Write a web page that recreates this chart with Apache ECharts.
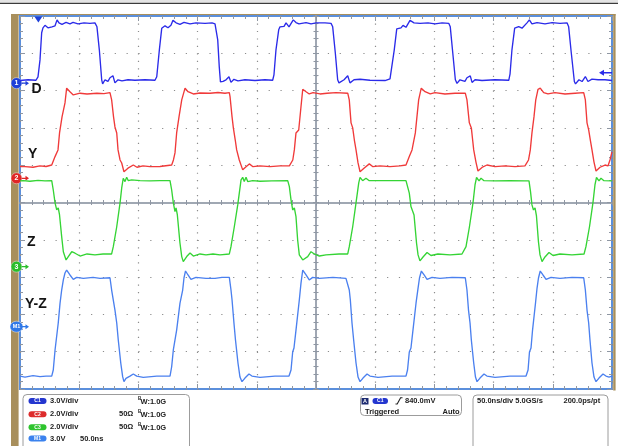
<!DOCTYPE html>
<html><head><meta charset="utf-8">
<script src="https://cdn.jsdelivr.net/npm/echarts@6/dist/echarts.min.js"></script>
<style>html,body{margin:0;padding:0;background:#fff}#c{width:618px;height:446px}</style>
</head><body><div id="c"></div>
<script>
// ---- Scope settings ----
const timeRangeNs = [0, 500];
const timePerDivNs = 50;
const channelNames = ['D', 'Y', 'Z', 'Y-Z'];
const channelMarkers = ['1', '2', '3', 'M1'];
const channelScalesV = [3.0, 2.0, 2.0, 3.0];        // V/div
const channelPositionsDiv = [3.2, 0.65, -1.72, -3.33]; // ground marker, div from centre
const triggerTimeNs = 15.5;
const triggerLevelV = 0.84;

// ---- Traces: [time ns, volts] ----
const traceD = [[0,0.21],[6.8,0.27],[13.5,0.23],[15.2,0.51],[16.9,1.87],[18.3,4.05],[19.4,4.45],[21.1,4.65],[23.6,4.45],[27.0,4.53],[29.6,4.61],[31.3,5.09],[32.9,4.85],[35.5,4.73],[38.9,4.89],[42.2,4.77],[44.8,4.89],[49.0,4.77],[54.1,4.85],[59.1,4.81],[63.3,4.85],[65.0,4.53],[67.0,2.68],[69.0,0.27],[69.8,-0.06],[71.8,0.27],[74.3,0.14],[76.0,0.43],[78.5,0.59],[80.2,0.02],[82.8,0.27],[86.1,0.18],[91.2,0.27],[97.1,0.23],[105.6,0.27],[114.0,0.23],
[115.5,0.51],[117.7,2.68],[119.7,4.41],[122.5,4.61],[125.0,4.45],[127.5,4.65],[129.2,5.05],[131.8,4.85],[135.1,4.73],[138.5,4.89],[143.6,4.77],[148.6,4.85],[156.3,4.81],[162.2,4.85],[164.7,4.77],[167.0,3.48],[168.3,1.31],[169.3,0.10],[171.5,0.14],[174.0,0.27],[176.5,0.51],[178.2,0.06],[180.7,0.31],[184.1,0.18],[190.0,0.27],[198.5,0.21],[206.9,0.27],[213.4,0.23],
[214.5,0.67],[216.2,2.68],[218.5,4.29],[219.6,4.53],[223.0,4.57],[224.7,4.85],[227.2,4.53],[230.8,5.09],[233.1,4.87],[235.6,4.77],[241.6,4.87],[245.8,4.77],[250.0,4.85],[257.6,4.85],[262.7,4.81],[264.1,4.53],[266.3,2.44],[268.3,0.27],[269.4,0.02],[273.7,0.27],[276.8,0.59],[278.7,0.02],[282.1,0.27],[287.2,0.31],[295.6,0.23],[308.3,0.21],[312.5,0.35],
[313.3,0.51],[316.1,2.68],[318.2,4.37],[321.8,4.45],[323.5,4.65],[326.0,4.49],[329.4,5.05],[332.8,4.85],[337.9,4.81],[344.6,4.85],[350.5,4.77],[356.5,4.85],[362.1,4.81],[363.4,4.53],[365.5,2.44],[367.7,0.27],[369.1,-0.02],[371.6,0.27],[375.8,0.14],[377.5,0.43],[380.3,0.59],[381.8,0.06],[384.3,0.27],[390.2,0.21],[401.2,0.27],[412.8,0.23],
[413.9,0.75],[415.5,2.68],[417.8,4.42],[421.2,4.55],[424.0,4.42],[428.2,4.85],[430.2,5.09],[432.4,4.77],[436.7,4.87],[443.4,4.77],[449.4,4.87],[456.1,4.81],[462.0,4.85],[463.4,4.53],[465.6,2.44],[468.2,0.13],[469.2,-0.06],[472.1,0.27],[474.7,0.13],[477.5,0.53],[479.7,0.13],[483.1,0.32],[488.2,0.27],[494.1,0.27],[500.0,0.21]];

const traceY = [[0,0.63],[4.2,0.62],[11.0,0.59],[16.9,0.66],[22.0,0.63],[26.8,0.71],[29.6,1.16],[32.1,1.52],[33.4,2.43],[35.5,3.29],[38.0,4.04],[39.4,4.83],[40.5,4.79],[42.2,4.64],[45.0,4.47],[50.7,4.56],[56.6,4.52],[65.0,4.56],[70.9,4.54],[76.0,4.59],[77.4,4.20],[79.0,3.29],[80.2,2.75],[81.7,2.43],[82.8,1.52],[84.5,0.98],[85.9,0.82],[87.8,0.35],[91.2,0.54],[95.7,0.71],[98.8,0.59],[103.9,0.66],[109.8,0.62],[118.2,0.63],[128.1,0.71],[129.6,0.98],[130.9,1.36],[132.3,2.43],[134.3,3.29],[136.6,4.20],[139.4,4.83],[141.9,4.64],[146.4,4.52],[152.0,4.57],[160.5,4.56],[167.2,4.60],[173.1,4.56],[176.8,4.59],[177.4,4.38],[179.1,3.29],[180.2,2.70],[181.8,2.05],[183.0,1.52],[185.2,0.98],[188.1,0.45],[190.9,0.62],[193.7,0.77],[196.8,0.62],[202.7,0.66],[211.2,0.62],[219.6,0.66],[227.5,0.66],[230.4,0.98],[231.7,1.52],[233.1,2.43],[235.4,2.59],[237.3,3.82],[238.8,4.77],[240.1,4.83],[241.6,4.64],[244.3,4.52],[247.5,4.59],[253.4,4.52],[259.3,4.56],[266.9,4.59],[276.8,4.56],[278.1,4.20],[279.6,2.97],[281.0,2.70],[282.4,2.05],[283.8,1.52],[285.5,0.82],[287.2,0.35],[290.5,0.54],[295.0,0.77],[298.1,0.62],[304.1,0.66],[312.5,0.62],[320.9,0.66],[326.0,0.71],[328.8,1.16],[331.1,1.52],[333.9,2.43],[336.7,4.20],[338.9,4.83],[342.1,4.64],[346.5,4.52],[350.5,4.59],[358.9,4.52],[367.4,4.56],[376.1,4.56],[377.5,4.20],[379.5,2.97],[381.2,2.70],[382.3,2.05],[383.2,1.52],[385.1,0.87],[386.8,0.39],[390.2,0.58],[394.4,0.71],[401.2,0.62],[409.6,0.66],[418.1,0.62],[426.5,0.66],[429.5,0.98],[431.0,1.52],[432.4,2.43],[434.1,3.29],[435.6,4.20],[437.5,4.77],[439.4,4.83],[442.3,4.59],[445.9,4.52],[451.8,4.59],[460.3,4.52],[468.8,4.56],[476.1,4.59],[477.5,4.20],[478.9,2.97],[480.3,2.59],[481.7,2.05],[483.1,1.52],[484.8,0.87],[486.5,0.39],[489.9,0.59],[494.1,0.71],[496.6,0.66],[498.3,0.98],[500.0,1.41]];

const traceZ = [[0,4.60],[2.8,4.61],[8.4,4.58],[15.2,4.63],[21.1,4.60],[26.8,4.61],[28.1,4.11],[29.6,3.42],[31.0,3.04],[32.3,3.15],[33.4,2.77],[35.2,1.61],[36.6,0.80],[38.9,0.36],[40.8,0.54],[43.7,0.80],[46.5,0.72],[50.7,0.57],[56.6,0.68],[63.3,0.63],[70.1,0.68],[77.4,0.68],[78.8,1.07],[81.7,2.14],[84.5,3.42],[85.9,4.22],[87.2,4.74],[88.7,4.56],[90.1,4.79],[91.5,4.61],[94.3,4.65],[101.4,4.61],[109.8,4.60],[118.2,4.61],[126.7,4.61],[128.1,4.11],[129.5,3.42],[130.9,2.95],[131.8,3.15],[132.9,2.77],[135.1,1.27],[136.6,0.54],[137.9,0.27],[140.8,0.54],[143.6,0.73],[146.4,0.57],[152.0,0.68],[157.1,0.63],[163.0,0.68],[168.9,0.63],[176.8,0.68],[178.2,1.07],[181.0,2.14],[183.9,3.31],[186.7,4.65],[188.1,4.79],[189.4,4.56],[190.9,4.79],[192.3,4.56],[196.5,4.61],[202.7,4.58],[212.8,4.60],[226.1,4.61],[227.5,4.29],[228.9,3.58],[230.3,3.04],[231.7,3.15],[233.1,2.68],[234.5,1.43],[235.9,0.63],[238.8,0.36],[240.1,0.27],[243.0,0.54],[245.8,0.80],[248.6,0.68],[252.8,0.57],[258.4,0.63],[269.4,0.68],[276.8,0.68],[278.1,1.07],[281.0,2.14],[283.8,3.42],[286.1,4.49],[287.2,4.79],[289.4,4.61],[292.2,4.74],[295.0,4.61],[306.3,4.61],[316.7,4.61],[326.0,4.61],[328.8,3.94],[330.2,3.22],[331.5,3.15],[332.8,2.77],[334.9,1.27],[336.2,0.63],[337.8,0.31],[340.4,0.52],[343.8,0.76],[347.1,0.60],[353.0,0.68],[363.2,0.63],[373.3,0.68],[376.7,1.07],[379.6,2.14],[382.6,3.42],[384.3,4.38],[385.6,4.78],[387.7,4.60],[389.4,4.74],[391.9,4.61],[401.2,4.60],[413.9,4.61],[426.5,4.60],[429.9,4.60],[431.2,4.01],[432.4,3.31],[433.7,3.04],[435.0,3.15],[436.2,2.72],[437.9,1.32],[439.2,0.63],[440.9,0.27],[443.4,0.52],[446.8,0.76],[450.2,0.60],[456.1,0.68],[466.2,0.63],[476.4,0.68],[478.0,1.07],[481.0,2.14],[483.9,3.42],[485.6,4.38],[486.9,4.78],[489.0,4.60],[490.7,4.74],[493.2,4.61],[500.0,4.60]];

const traceYZ = [[0,-3.97],[4.2,-4.05],[11.0,-3.94],[16.9,-4.02],[22.0,-3.97],[26.8,-3.97],[28.1,-3.48],[29.6,-1.87],[31.0,-1.71],[32.3,0.30],[33.8,1.88],[35.2,2.95],[36.6,3.76],[38.0,4.32],[39.4,4.56],[42.2,4.16],[45.0,3.81],[47.9,3.97],[53.5,3.89],[61.7,3.97],[67.6,3.89],[76.0,3.94],[77.4,2.95],[80.2,1.34],[81.7,0.30],[83.0,-1.07],[85.1,-2.92],[86.7,-4.02],[87.8,-4.42],[89.5,-4.15],[92.9,-3.97],[95.7,-3.80],[98.6,-3.97],[104.1,-4.07],[115.5,-3.97],[126.7,-3.97],[128.1,-3.22],[129.5,-1.87],[130.9,-1.71],[132.3,-0.27],[135.1,1.88],[137.4,2.95],[138.5,3.92],[139.8,4.48],[141.9,4.16],[144.4,3.81],[148.6,3.97],[157.1,3.89],[164.7,3.89],[170.6,3.97],[176.8,3.97],[178.2,2.95],[179.1,2.15],[180.7,0.30],[182.0,-1.07],[184.1,-2.92],[185.8,-4.05],[187.5,-4.42],[190.0,-4.13],[193.4,-3.80],[195.9,-3.97],[202.7,-4.07],[215.4,-3.97],[227.2,-3.97],[228.9,-3.48],[230.3,-2.03],[231.4,-1.71],[233.1,-0.27],[235.9,2.15],[237.3,3.49],[238.8,4.56],[241.6,4.16],[244.3,3.76],[247.2,3.97],[252.8,3.89],[264.3,3.97],[275.3,3.89],[276.8,3.97],[278.1,2.95],[279.0,2.15],[280.4,0.30],[281.8,-1.07],[283.8,-2.92],[285.5,-4.05],[287.2,-4.42],[289.7,-4.13],[293.1,-3.80],[295.6,-3.97],[302.4,-4.07],[314.2,-3.97],[326.0,-3.97],[327.3,-3.48],[328.8,-2.03],[330.2,-1.71],[331.9,-0.27],[334.5,1.91],[336.2,3.11],[337.4,3.92],[339.0,4.48],[341.3,4.16],[343.8,3.81],[348.0,3.97],[354.7,3.89],[364.9,3.97],[376.1,3.94],[377.5,2.95],[378.8,1.34],[380.1,0.30],[381.2,-1.07],[383.2,-2.92],[384.7,-4.05],[386.0,-4.42],[388.5,-4.13],[391.9,-3.80],[394.4,-3.97],[401.2,-4.07],[413.9,-3.97],[427.4,-3.97],[429.1,-3.48],[430.3,-2.03],[431.6,-1.71],[432.9,-0.27],[435.4,1.91],[436.7,3.11],[437.9,3.92],[439.4,4.48],[441.7,4.16],[444.3,3.81],[448.5,3.97],[456.1,3.89],[466.2,3.97],[476.1,3.94],[477.5,2.95],[478.9,1.34],[480.3,0.30],[481.4,-1.07],[483.1,-2.92],[484.8,-4.05],[486.5,-4.42],[489.0,-4.13],[492.4,-3.80],[494.9,-3.97],[497.5,-4.05],[500.0,-3.97]];

const traces = [traceD, traceY, traceZ, traceYZ];

// ---- Panel text ----
const chanInfoRows = [
  ['C1', '3.0V/div', '', 'W:1.0G'],
  ['C2', '2.0V/div', '50Ω', 'W:1.0G'],
  ['C3', '2.0V/div', '50Ω', 'W:1.0G'],
  ['M1', '3.0V', '50.0ns', '']
];
const triggerText = ['840.0mV', 'Triggered', 'Auto'];
const timebaseText = ['50.0ns/div 5.0GS/s', '200.0ps/pt'];

// ---- styles ----
const traceColors = ['#2b2be9', '#f03a3a', '#35d435', '#4b80ef'];
const markerColors = ['#1e3fd8', '#e02626', '#2abd2a', '#2f78e8'];
const pillColors = ['#2436cf', '#dd2c2c', '#2ec42e', '#3b82ee'];
const FONT = '"Liberation Sans", Arial, sans-serif';
const gridDot = '#8c8c8c';
const tickCol = '#8f97a3';

const chart = echarts.init(document.getElementById('c'), null, {renderer: 'canvas'});

const divsX = 10, divsY = 10;
const plot = {left: 20, top: 16, width: 592, height: 373};
const minorXpx = plot.width / divsX / 5;
const minorYpx = plot.height / divsY / 5;

function edgeX(pos, split) {
  return {type: 'value', gridIndex: 0, position: pos, min: timeRangeNs[0], max: timeRangeNs[1], interval: timePerDivNs,
    axisLine: {show: false, onZero: false}, axisLabel: {show: false},
    axisTick: {show: true, inside: true, length: 5, lineStyle: {color: tickCol, width: 1}},
    minorTick: {show: true, splitNumber: 5, length: 3, lineStyle: {color: tickCol, width: 1}},
    splitLine: {show: split, lineStyle: {color: gridDot, width: 1.2, type: [1.2, minorYpx - 1.2]}}};
}
function centerX(inside) {
  return {type: 'value', gridIndex: 0, position: 'bottom', min: timeRangeNs[0], max: timeRangeNs[1], interval: timePerDivNs,
    axisLine: {show: true, onZero: true, onZeroAxisIndex: 0, lineStyle: {color: '#9aa2ae', width: 1.5}},
    axisLabel: {show: false},
    axisTick: {show: true, inside: inside, length: 3, lineStyle: {color: tickCol, width: 1}},
    minorTick: {show: true, splitNumber: 5, length: 2.5, lineStyle: {color: tickCol, width: 1}},
    splitLine: {show: false}};
}
function edgeY(pos, split) {
  return {type: 'value', gridIndex: 0, position: pos, min: -divsY / 2, max: divsY / 2, interval: 1,
    axisLine: {show: false, onZero: false}, axisLabel: {show: false},
    axisTick: {show: true, inside: true, length: 5, lineStyle: {color: tickCol, width: 1}},
    minorTick: {show: true, splitNumber: 5, length: 3, lineStyle: {color: tickCol, width: 1}},
    splitLine: {show: split, lineStyle: {color: gridDot, width: 1.2, type: [1.2, minorXpx - 1.2]}}};
}
function centerY(inside) {
  return {type: 'value', gridIndex: 0, position: 'left', min: -divsY / 2, max: divsY / 2, interval: 1,
    axisLine: {show: true, onZero: true, onZeroAxisIndex: 4, lineStyle: {color: '#9aa2ae', width: 1.5}},
    axisLabel: {show: false},
    axisTick: {show: true, inside: inside, length: 3, lineStyle: {color: tickCol, width: 1}},
    minorTick: {show: true, splitNumber: 5, length: 2.5, lineStyle: {color: tickCol, width: 1}},
    splitLine: {show: false}};
}

const xAxes = [edgeX('bottom', true), edgeX('top', false), centerX(true), centerX(false),
  {type: 'value', gridIndex: 0, show: false, min: -(timeRangeNs[1] - timeRangeNs[0]) / 2, max: (timeRangeNs[1] - timeRangeNs[0]) / 2}];
const chanAxes = channelScalesV.map((s, i) => ({type: 'value', gridIndex: 0, show: false,
  min: (-divsY / 2 - channelPositionsDiv[i]) * s, max: (divsY / 2 - channelPositionsDiv[i]) * s}));
const yAxes = [edgeY('left', true), edgeY('right', false), centerY(true), centerY(false)].concat(chanAxes);

const arrowRight = 'path://M0,3 L5,3 L5,0 L10,4 L5,8 L5,5 L0,5 Z';
const arrowLeft = 'path://M0,4 L5,0 L5,3 L13,3 L13,5 L5,5 L5,8 Z';
const triDown = 'path://M0,0 L10,0 L5,8 Z';

const series = traces.map((data, i) => {
  const mp = [
    {coord: [timeRangeNs[0], 0], symbol: 'circle', symbolSize: i === 3 ? [13, 11] : 11, symbolOffset: [-3.5, 0],
      itemStyle: {color: markerColors[i], borderColor: 'rgba(255,255,255,0.7)', borderWidth: 0.6},
      label: {show: true, position: 'inside', formatter: channelMarkers[i], color: '#fff', fontSize: i === 3 ? 5.5 : 7, fontWeight: 'bold', fontFamily: FONT}},
    {coord: [timeRangeNs[0], 0], symbol: arrowRight, symbolSize: [7, 5], symbolOffset: [5.5, 0],
      itemStyle: {color: markerColors[i]}, label: {show: false}}
  ];
  if (i === 0) {
    mp.push({coord: [timeRangeNs[1], triggerLevelV], symbol: arrowLeft, symbolSize: [13, 6], symbolOffset: [-6.5, 0],
      itemStyle: {color: traceColors[0]}, label: {show: false}});
    mp.push({coord: [triggerTimeNs, chanAxes[0].max], symbol: triDown, symbolSize: [8, 6], symbolOffset: [0, 3.5],
      itemStyle: {color: '#1e3fd8'}, label: {show: false}});
  }
  return {type: 'line', name: channelNames[i], xAxisIndex: 0, yAxisIndex: 4 + i, data: data,
    showSymbol: false, symbol: 'none', animation: false, clip: true, z: 5 + i,
    lineStyle: {color: traceColors[i], width: 1.35},
    markPoint: {silent: true, animation: false, data: mp}};
});

// ---- graphics ----
const g = [];
const brown = '#a88f5c';
g.push({type: 'rect', z: -10, shape: {x: 0, y: 0, width: 618, height: 2.6}, style: {fill: '#e4e4e4'}});
g.push({type: 'line', z: -9, shape: {x1: 0, y1: 3.4, x2: 618, y2: 3.4}, style: {stroke: '#3b3b3b', lineWidth: 1.4}});
g.push({type: 'rect', z: -10, shape: {x: 11, y: 14, width: 7.6, height: 432}, style: {fill: brown}});
g.push({type: 'rect', z: -10, shape: {x: 11, y: 14, width: 604.5, height: 1.4}, style: {fill: brown}});
g.push({type: 'rect', z: -10, shape: {x: 613.2, y: 14, width: 2.4, height: 376.5}, style: {fill: brown}});

// trace labels
const labelPos = [[31.5, 82.5], [28, 147], [27, 235.5], [25, 297.5]];
channelNames.forEach((n, i) => g.push({type: 'text', z: 100, left: labelPos[i][0], top: labelPos[i][1],
  style: {text: n, font: 'bold 14px ' + FONT, fill: '#141414'}}));

// panel boxes
const boxStyle = {fill: '#fff', stroke: '#9c9c9c', lineWidth: 1};
g.push({type: 'rect', z: 1, shape: {x: 23, y: 394.5, width: 166.5, height: 60, r: 4}, style: boxStyle});
g.push({type: 'rect', z: 1, shape: {x: 360.5, y: 395, width: 101, height: 20.5, r: 4}, style: boxStyle});
g.push({type: 'rect', z: 1, shape: {x: 473, y: 395, width: 135, height: 60, r: 4}, style: boxStyle});

const txtFont = 'bold 7.5px ' + FONT;
const rowY = [401, 414.3, 427.3, 438.6];
chanInfoRows.forEach((r, i) => {
  const y = rowY[i];
  g.push({type: 'rect', z: 2, shape: {x: 28.5, y: y - 3, width: 18, height: 6, r: 3}, style: {fill: pillColors[i]}});
  g.push({type: 'text', z: 3, style: {text: r[0], x: 37.5, y: y, align: 'center', verticalAlign: 'middle', font: 'bold 5px ' + FONT, fill: '#fff'}});
  g.push({type: 'text', z: 3, style: {text: r[1], x: 50, y: y, verticalAlign: 'middle', font: txtFont, fill: '#222'}});
  if (r[2]) g.push({type: 'text', z: 3, style: {text: r[2], x: i === 3 ? 80 : 119, y: y, verticalAlign: 'middle', font: txtFont, fill: '#222'}});
  if (r[3]) {
    g.push({type: 'text', z: 3, style: {text: 'B', x: 138, y: y - 2.2, verticalAlign: 'middle', font: 'bold 4.5px ' + FONT, fill: '#222'}});
    g.push({type: 'text', z: 3, style: {text: r[3], x: 140.5, y: y + 0.6, verticalAlign: 'middle', font: txtFont, fill: '#222'}});
  }
});

// trigger box
g.push({type: 'rect', z: 2, shape: {x: 361.5, y: 398, width: 7, height: 6.5}, style: {fill: '#1c2a70'}});
g.push({type: 'text', z: 3, style: {text: 'A', x: 365, y: 401.3, align: 'center', verticalAlign: 'middle', font: 'bold 5.5px ' + FONT, fill: '#fff'}});
g.push({type: 'rect', z: 2, shape: {x: 372.5, y: 398, width: 15.5, height: 6, r: 3}, style: {fill: pillColors[0]}});
g.push({type: 'text', z: 3, style: {text: 'C1', x: 380.3, y: 401, align: 'center', verticalAlign: 'middle', font: 'bold 5px ' + FONT, fill: '#fff'}});
g.push({type: 'polyline', z: 3, shape: {points: [[395.5, 404], [397.2, 404], [400.6, 397.8], [402.5, 397.8]]}, style: {stroke: '#222', lineWidth: 1.1, fill: null}});
g.push({type: 'text', z: 3, style: {text: triggerText[0], x: 405, y: 401, verticalAlign: 'middle', font: txtFont, fill: '#222'}});
g.push({type: 'text', z: 3, style: {text: triggerText[1], x: 365, y: 412.3, verticalAlign: 'middle', font: txtFont, fill: '#222'}});
g.push({type: 'text', z: 3, style: {text: triggerText[2], x: 442.5, y: 412.3, verticalAlign: 'middle', font: txtFont, fill: '#222'}});

// timebase box
g.push({type: 'text', z: 3, style: {text: timebaseText[0], x: 477, y: 401, verticalAlign: 'middle', font: txtFont, fill: '#222'}});
g.push({type: 'text', z: 3, style: {text: timebaseText[1], x: 563.5, y: 401, verticalAlign: 'middle', font: txtFont, fill: '#222'}});

chart.setOption({
  animation: false,
  backgroundColor: '#ffffff',
  textStyle: {fontFamily: FONT},
  grid: {left: plot.left, top: plot.top, width: plot.width, height: plot.height, show: true,
    borderColor: '#5b8fdc', borderWidth: 2, containLabel: false},
  xAxis: xAxes,
  yAxis: yAxes,
  series: series,
  graphic: {elements: g}
});
</script>
</body></html>
